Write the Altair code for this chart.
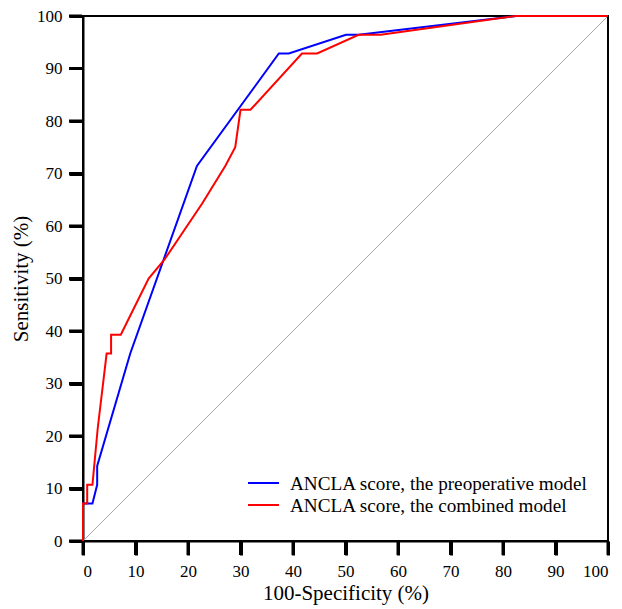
import altair as alt
import pandas as pd

pre_x = [0, 0, 1.8, 2.7, 2.7, 9.0, 21.7, 37.3, 39.2, 50.1, 52.5, 82.5, 100]
pre_y = [0, 7.14, 7.14, 10.71, 14.29, 35.71, 71.43, 92.86, 92.86, 96.43, 96.43, 100, 100]

comb_x = [0, 0, 0.8, 0.8, 1.8, 2.8, 4.5, 5.35, 5.35, 7.2, 12.5, 15.5, 22.7, 27.1, 29.0, 30.0, 31.9, 41.7, 44.6, 52.5, 56.7, 82.4, 100]
comb_y = [0, 7.14, 7.14, 10.71, 10.71, 21.43, 35.71, 35.71, 39.29, 39.29, 50, 53.57, 64.29, 71.43, 75, 82.14, 82.14, 92.86, 92.86, 96.43, 96.43, 100, 100]

labels = ["ANCLA score, the preoperative model", "ANCLA score, the combined model"]
colors = ["#0000FF", "#FF0000"]
ticks = list(range(0, 101, 10))

rows = []
for i, (x, y) in enumerate(zip(pre_x, pre_y)):
    rows.append({"x": x, "y": y, "model": labels[0], "i": i, "layer": 0})
for i, (x, y) in enumerate(zip(comb_x, comb_y)):
    rows.append({"x": x, "y": y, "model": labels[1], "i": i, "layer": 1})
df = pd.DataFrame(rows)

diag = pd.DataFrame({"x": [0, 100], "y": [0, 100]})
tick_df = pd.DataFrame({"t": ticks})

FONT = "Liberation Serif, Times New Roman, serif"

xs = alt.Scale(domain=[0, 100], nice=False, zero=False)
ys = alt.Scale(domain=[0, 100], nice=False, zero=False)

axis_style = dict(
    values=ticks, ticks=True, tickSize=14, tickWidth=3, tickColor="#000000",
    tickOpacity=1, domain=True, domainColor="#000000", domainWidth=2, grid=False,
    labelFont=FONT, labelFontSize=17, labelColor="black",
    titleFont=FONT, titleFontSize=21, titleFontWeight="normal", titleColor="black",
)

diag_line = alt.Chart(diag).mark_line(color="#a6a6a6", strokeWidth=1).encode(
    x=alt.X("x:Q", scale=xs, axis=alt.Axis(title="100-Specificity (%)", labelPadding=8, titlePadding=3, **axis_style)),
    y=alt.Y("y:Q", scale=ys, axis=alt.Axis(title="Sensitivity (%)", labelPadding=7, titlePadding=5, **axis_style)),
)

# explicit tick marks drawn from the tick values (bars, so they show as solid strokes)
x_ticks = alt.Chart(tick_df).mark_rect(color="#000000", clip=False).encode(
    x=alt.X("t:Q", scale=xs), x2=alt.X2("t:Q"), y=alt.value(526), y2=alt.value(539),
    opacity=alt.value(1), strokeWidth=alt.value(3), stroke=alt.value("#000000"),
)
y_ticks = alt.Chart(tick_df).mark_rect(color="#000000", clip=False).encode(
    y=alt.Y("t:Q", scale=ys), y2=alt.Y2("t:Q"), x=alt.value(-14), x2=alt.value(-1),
    opacity=alt.value(1), strokeWidth=alt.value(3), stroke=alt.value("#000000"),
)

curves = alt.Chart(df).mark_line(strokeWidth=2).encode(
    x=alt.X("x:Q", scale=xs),
    y=alt.Y("y:Q", scale=ys),
    color=alt.Color("model:N", scale=alt.Scale(domain=labels, range=colors), legend=None),
    order=alt.Order("i:Q"),
    detail="layer:N",
)

# manual legend (fixed pixel placement inside the plot area)
legend_layers = []
row_y = [467, 489]
for lab, col, yy in zip(labels, colors, row_y):
    ld = pd.DataFrame({"model": [lab]})
    legend_layers.append(
        alt.Chart(ld).mark_rule(color=col, strokeWidth=2).encode(
            x=alt.value(165), x2=alt.value(196), y=alt.value(yy)
        )
    )
    legend_layers.append(
        alt.Chart(ld).mark_text(
            align="left", baseline="middle", font=FONT, fontSize=19.2, color="black", dy=1
        ).encode(x=alt.value(207), y=alt.value(yy), text="model:N")
    )

chart = (
    alt.layer(diag_line, x_ticks, y_ticks, curves, *legend_layers)
    .properties(
        width=525,
        height=525,
        autosize=alt.AutoSizeParams(type="none"),
        padding={"left": 75, "top": 8, "right": 6, "bottom": 66},
    )
    .configure_view(stroke="black", strokeWidth=2)
)

chart.save("out.html", embed_options={"renderer": "svg", "actions": False})
